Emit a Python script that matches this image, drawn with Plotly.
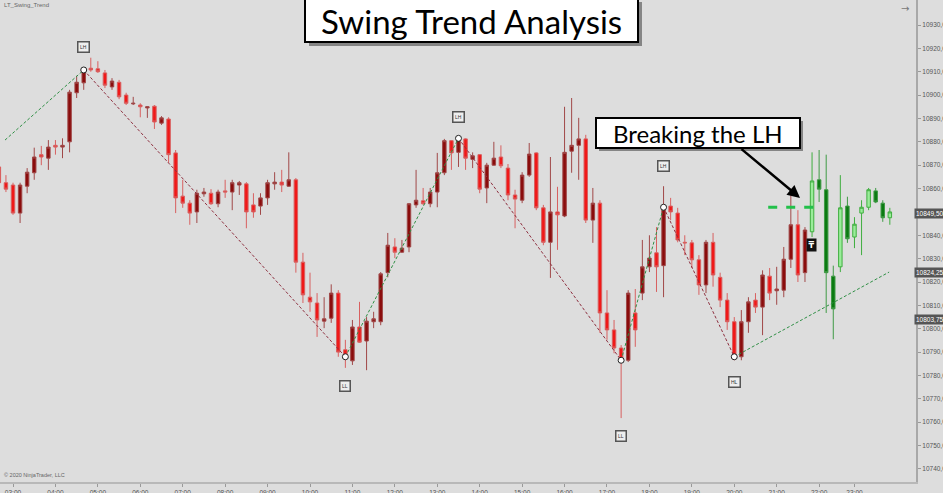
import plotly.graph_objects as go

# ---------------- data ----------------
bar_index = list(range(-2, 125))  # 10-minute bars, 0 = 03:00

opens = [
    10869.25, 10862.5, 10861.5, 10849.5, 10861, 10866.75, 10874.5, 10873, 10878.5, 10877.75,
    10880, 10901, 10905.25, 10911.5, 10911.25, 10909.5, 10903.5, 10905.5, 10900, 10896.25,
    10895.75, 10894.5, 10895.25, 10888, 10889.75, 10875.25, 10856.75, 10853.75, 10850, 10857.75,
    10858, 10853.5, 10859, 10858.5, 10861.5, 10862, 10853, 10852.5, 10856, 10862,
    10862.75, 10861, 10863.75, 10828.5, 10813.5, 10811, 10803.25, 10804.5, 10815.25, 10791,
    10786.25, 10800.75, 10794.75, 10803, 10803, 10824, 10835, 10832.75, 10835, 10853,
    10854.75, 10853.5, 10858.5, 10866.75, 10880.5, 10875.5, 10881.25, 10872.5, 10874.5, 10860.25,
    10870, 10873.5, 10868.75, 10857.25, 10855, 10865.75, 10875.25, 10851.75, 10837, 10850,
    10848.25, 10876, 10878.5, 10881.25, 10846.5, 10853.75, 10806.75, 10799.5, 10791.75, 10786.5,
    10806.75, 10815.25, 10826.5, 10832.5, 10827, 10852.5, 10849.5, 10837, 10836.75, 10829.5,
    10818.75, 10837, 10822, 10812.25, 10803, 10788, 10803, 10812.25, 10809.25, 10822.5,
    10816.25, 10816.5, 10829.75, 10844.5, 10824, 10841.5, 10863.75, 10859.5, 10822.5, 10826.5,
    10852.5, 10839.25, 10849.5, 10852, 10859, 10853.75, 10847.5,
]
highs = [
    10871, 10865.75, 10862.5, 10862.5, 10868.75, 10877.5, 10878.25, 10880.75, 10880.75, 10881.5,
    10902.25, 10908.25, 10912, 10916, 10914.5, 10910.75, 10907.25, 10906.5, 10901, 10899.25,
    10896.5, 10895.25, 10895.75, 10891, 10890.5, 10876.5, 10863.75, 10855, 10859.5, 10860.25,
    10859.75, 10859.5, 10863.75, 10863.75, 10863.25, 10862.75, 10858, 10858, 10863.75, 10867,
    10868, 10875.5, 10864.5, 10832.5, 10824, 10815.25, 10813.5, 10819, 10816.5, 10795.25,
    10803.75, 10811.5, 10805, 10807.25, 10824.25, 10841, 10838.75, 10838, 10853.75, 10868,
    10860.25, 10860.25, 10875.25, 10881.25, 10880.75, 10882, 10881.5, 10875.5, 10874.75, 10871,
    10880, 10878.5, 10870.5, 10859.5, 10867, 10879.5, 10875.5, 10853, 10873.5, 10860.75,
    10895, 10898.75, 10890.25, 10883, 10860.25, 10855, 10816.5, 10803.75, 10793, 10816.5,
    10817, 10838, 10840, 10843.5, 10861, 10856, 10851.75, 10840, 10838, 10831.5,
    10838, 10841, 10824, 10815.25, 10805, 10808, 10813.5, 10815.25, 10825, 10826,
    10826.5, 10835, 10858, 10850.75, 10843.5, 10875.5, 10876.5, 10874.5, 10827, 10865.75,
    10856.5, 10847.75, 10855, 10860.25, 10860.25, 10855, 10851.75,
]
lows = [
    10861, 10858.5, 10848.75, 10845.25, 10858, 10863.75, 10870, 10868, 10874.5, 10873,
    10875.5, 10898.75, 10902.25, 10910, 10909.5, 10903, 10902.25, 10898.25, 10895.75, 10895.75,
    10890.5, 10890.25, 10885.5, 10887.25, 10871, 10849.5, 10851.75, 10844.5, 10845.25, 10856.5,
    10853, 10852, 10856, 10850.75, 10857.25, 10843, 10847.5, 10848.75, 10853, 10859.5,
    10858.5, 10860.75, 10824, 10811, 10807.25, 10796.5, 10800.25, 10802.5, 10788, 10783.25,
    10784.5, 10794, 10782.25, 10800.25, 10801.5, 10822, 10830.25, 10832.5, 10832.75, 10851.75,
    10853, 10852, 10852, 10865.75, 10868, 10869.25, 10868, 10868.75, 10858, 10853.75,
    10869.75, 10868.75, 10855, 10843, 10853.75, 10865, 10850.75, 10835.75, 10821.75, 10833.75,
    10847.75, 10866.75, 10863.75, 10845.25, 10836.75, 10798.25, 10795.25, 10789.5, 10761.75, 10785.75,
    10792.25, 10812.25, 10824.25, 10815.75, 10813.5, 10846.5, 10837, 10831.5, 10826, 10814.5,
    10815.25, 10818, 10809.25, 10799.5, 10786.5, 10786.5, 10798.25, 10806.75, 10797.25, 10812.25,
    10810.25, 10813.5, 10826, 10820, 10820, 10839.25, 10854.25, 10806.75, 10795.5, 10824.25,
    10836.75, 10834.5, 10831.5, 10850.75, 10853.75, 10845.75, 10844.5,
]
closes = [
    10862.5, 10859.75, 10849.5, 10861.5, 10867, 10873.5, 10873.5, 10877.75, 10877.75, 10878.5,
    10901.25, 10905.5, 10910.75, 10910.75, 10910, 10904.25, 10906, 10899.25, 10896.5, 10896.5,
    10895, 10895, 10888.5, 10890.25, 10874.5, 10856, 10853.75, 10849.5, 10858, 10858.5,
    10853.5, 10858.5, 10858.5, 10862.5, 10862.5, 10850, 10850, 10856, 10862.5, 10862.75,
    10861.5, 10863.75, 10828.5, 10814.5, 10811.5, 10803.75, 10804.25, 10815.25, 10790, 10788,
    10800.75, 10794.25, 10803.25, 10804.25, 10823.5, 10835.75, 10832.75, 10834.5, 10853.5, 10855,
    10853.5, 10858.5, 10866.75, 10880.5, 10875.25, 10881.5, 10873, 10874, 10859.75, 10870,
    10873, 10869.75, 10857.25, 10855.5, 10865.75, 10874.75, 10851.75, 10837, 10850, 10848.75,
    10875.5, 10878.5, 10881.25, 10846.5, 10853.75, 10806.75, 10799.5, 10791.75, 10786.5, 10815.25,
    10799.5, 10826.5, 10830.25, 10826.5, 10852, 10850, 10838, 10836.75, 10829.5, 10818.75,
    10837, 10823, 10812.25, 10803, 10788, 10803, 10811.5, 10809.25, 10823, 10815.25,
    10817, 10829.75, 10844.5, 10823, 10842.25, 10863.25, 10859.75, 10824, 10808.5, 10851.75,
    10838.5, 10844.75, 10852, 10859.5, 10854.25, 10847.5, 10850,
]
trend_flip_bar = 113  # first bar of the green (up) trend

swing_bars = [10, 47, 63, 86, 92, 102]
swing_labels = ["LH", "LL", "LH", "LL", "LH", "HL"]
trend_start = (-1.13, 10880.75)
trend_end = (123.9, 10824.25)

time_tick_bars = [0, 6, 12, 18, 24, 30, 36, 42, 48, 54, 60, 66, 72, 78, 84, 90, 96, 102, 108, 114, 119]
time_tick_labels = ["03:00", "04:00", "05:00", "06:00", "07:00", "08:00", "09:00", "10:00", "11:00",
                    "12:00", "13:00", "14:00", "15:00", "16:00", "17:00", "18:00", "19:00", "20:00",
                    "21:00", "22:00", "23:00"]
price_ticks = [10740, 10750, 10760, 10770, 10780, 10790, 10800, 10810, 10820, 10830,
               10840, 10850, 10860, 10870, 10880, 10890, 10900, 10910, 10920, 10930]
price_tick_labels = ["10740,00", "10750,00", "10760,00", "10770,00", "10780,00", "10790,00",
                     "10800,00", "10810,00", "10820,00", "10830,00", "10840,00", "10850,00",
                     "10860,00", "10870,00", "10880,00", "10890,00", "10900,00", "10910,00",
                     "10920,00", "10930,00"]
price_tags = [10849.5, 10824.25, 10803.75]
price_tag_labels = ["10849,50", "10824,25", "10803,75"]

# ---------------- figure ----------------
BG = "#dddddd"
fig = go.Figure()

def subset(cond):
    idx = [k for k, b in enumerate(bar_index) if cond(b)]
    return ([bar_index[k] for k in idx], [opens[k] for k in idx], [highs[k] for k in idx],
            [lows[k] for k in idx], [closes[k] for k in idx])

for cond, inc_fill, inc_line, dec_fill, dec_line in [
    (lambda b: b < trend_flip_bar, "#8a0c0c", "#a04848", "#f01818", "#d86060"),
    (lambda b: b >= trend_flip_bar, "#9aec9a", "#3fae3f", "#0b7a12", "#3f9a45"),
]:
    xs, o, h, l, c = subset(cond)
    fig.add_trace(go.Candlestick(
        x=xs, open=o, high=h, low=l, close=c,
        increasing=dict(fillcolor=inc_fill, line=dict(color=inc_line, width=1)),
        decreasing=dict(fillcolor=dec_fill, line=dict(color=dec_line, width=1)),
        whiskerwidth=0, showlegend=False, hoverinfo="skip",
    ))

# swing lines
swing_prices = [closes[bar_index.index(b)] for b in swing_bars]
pts = [trend_start] + list(zip(swing_bars, swing_prices)) + [trend_end]
for (x0, y0), (x1, y1) in zip(pts[:-1], pts[1:]):
    col = "#2f8f45" if y1 > y0 else "#8e3040"
    fig.add_trace(go.Scatter(x=[x0, x1], y=[y0, y1], mode="lines",
                             line=dict(color=col, width=1, dash="3px,2px"),
                             showlegend=False, hoverinfo="skip"))

fig.add_trace(go.Scatter(x=swing_bars, y=swing_prices, mode="markers",
                         marker=dict(size=6, color="white", line=dict(color="#222", width=1)),
                         showlegend=False, hoverinfo="skip"))

# LH break level
lh_level = swing_prices[4]
fig.add_shape(type="line", xref="x", yref="y", x0=106.8, x1=114.4, y0=lh_level, y1=lh_level,
              line=dict(color="#22c04a", width=3, dash="dash"))

annotations = []
# swing labels
shifts = {"LH": 20, "HL": -22, "LL": -18}
for b, lab in zip(swing_bars, swing_labels):
    k = bar_index.index(b)
    above = lab == "LH"
    yv = highs[k] if above else lows[k]
    annotations.append(dict(x=b, y=yv, xref="x", yref="y", text=lab, showarrow=False,
                            xanchor="center", yanchor="middle",
                            yshift=shifts[lab], font=dict(size=5, color="#333", family="Liberation Sans"),
                            bgcolor="#eeeeee", bordercolor="#555", borderwidth=1.5, borderpad=1.5))

# price tags on right axis
for v, t in zip(price_tags, price_tag_labels):
    annotations.append(dict(x=1, y=v, xref="paper", yref="y", text=t, showarrow=False,
                            xanchor="left", yanchor="middle", xshift=-2,
                            font=dict(size=6.5, color="white", family="Liberation Sans"),
                            bgcolor="#555555", borderpad=1))

# marker box
annotations.append(dict(x=112.9, y=10835.75, xref="x", yref="y", text="<b>₸</b>", showarrow=False,
                        xanchor="center", yanchor="middle",
                        font=dict(size=8, color="white", family="DejaVu Sans"), bgcolor="#111111", borderpad=1.5))

W, H = 916.0, 482.0
# small texts
annotations += [
    dict(x=0.002, y=1, xref="paper", yref="paper", text="LT_Swing_Trend", showarrow=False,
         xanchor="left", yanchor="top", font=dict(size=6, color="#666", family="Liberation Sans")),
    dict(x=0.002, y=1 - 475 / H, xref="paper", yref="paper", text="© 2020 NinjaTrader, LLC", showarrow=False,
         xanchor="left", yanchor="middle", font=dict(size=5.5, color="#666", family="Liberation Sans")),
    dict(x=905 / W, y=1 - 8 / H, xref="paper", yref="paper", text="→", showarrow=False,
         xanchor="center", yanchor="middle", font=dict(size=10, color="#777", family="DejaVu Sans")),
]

def px(x0, y0, x1, y1):
    return dict(x0=x0 / W, x1=x1 / W, y0=1 - y1 / H, y1=1 - y0 / H)

# title box
fig.add_shape(type="rect", xref="paper", yref="paper", **px(309, 2, 642, 46),
              fillcolor="rgba(60,60,60,0.55)", line=dict(width=0))
fig.add_shape(type="rect", xref="paper", yref="paper", **px(305, -3, 638, 42),
              fillcolor="white", line=dict(color="black", width=2))
annotations.append(dict(x=471.5 / W, y=1 - 21 / H, xref="paper", yref="paper", text="Swing Trend Analysis",
                        showarrow=False, xanchor="center", yanchor="middle",
                        font=dict(size=33, color="black", family="Lato")))

fig.add_shape(type="rect", xref="paper", yref="paper", **px(599, 121, 803, 151),
              fillcolor="rgba(60,60,60,0.55)", line=dict(width=0))
fig.add_shape(type="rect", xref="paper", yref="paper", **px(596, 118, 800, 148),
              fillcolor="white", line=dict(color="black", width=2))
annotations.append(dict(x=698 / W, y=1 - 133 / H, xref="paper", yref="paper", text="Breaking the LH",
                        showarrow=False, xanchor="center", yanchor="middle",
                        font=dict(size=24, color="black", family="Lato")))

# arrow
annotations.append(dict(x=111.3, y=10856, xref="x", yref="y", text="", showarrow=True,
                        ax=-60, ay=-50, arrowhead=2, arrowsize=1, arrowwidth=2.5,
                        arrowcolor="black", standoff=0))

fig.update_layout(
    width=943, height=493,
    margin=dict(l=0, r=27, t=0, b=11, autoexpand=False),
    paper_bgcolor=BG, plot_bgcolor=BG,
    showlegend=False,
    annotations=annotations,
    xaxis=dict(range=[-1.84, 127.7], tickmode="array", tickvals=time_tick_bars, ticktext=time_tick_labels,
               ticks="outside", ticklen=3, tickcolor="#999", showgrid=False, zeroline=False,
               showline=True, linecolor="#b8b8b8", linewidth=2, automargin=False,
               tickfont=dict(size=6.5, color="#555", family="Liberation Sans"),
               rangeslider=dict(visible=False)),
    yaxis=dict(range=[10734.4, 10940.7], side="right", tickmode="array", tickvals=price_ticks,
               ticktext=price_tick_labels, ticks="outside", ticklen=3, tickcolor="#999",
               showgrid=False, zeroline=False, showline=True, linecolor="#a8a8a8", linewidth=2,
               automargin=False,
               tickfont=dict(size=6.5, color="#555", family="Liberation Sans")),
)

fig.write_html("out.html", config={"displayModeBar": False},
               post_script="document.body.style.margin='0';document.body.style.overflow='hidden';")
